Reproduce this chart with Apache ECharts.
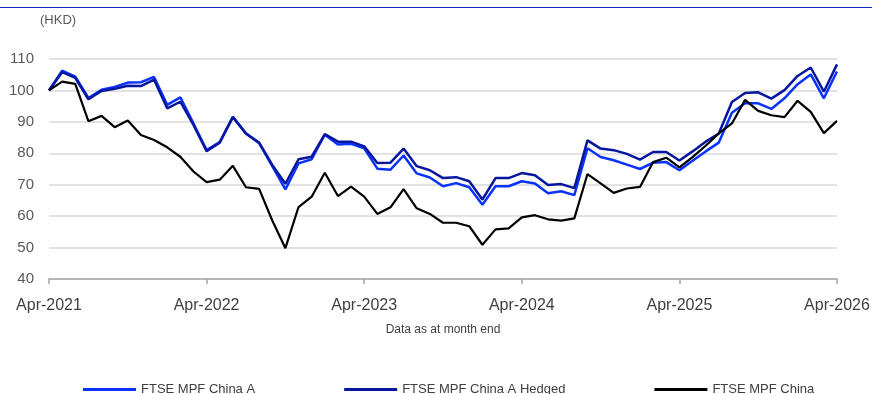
<!DOCTYPE html>
<html>
<head>
<meta charset="utf-8">
<script src="https://cdn.jsdelivr.net/npm/echarts@6/dist/echarts.min.js"></script>
<style>
html,body{margin:0;padding:0;background:#fff;}
#c{width:873px;height:394px;}
</style>
</head>
<body>
<div id="c"></div>
<script>
const months = [
 'Apr-2021','May-2021','Jun-2021','Jul-2021','Aug-2021','Sep-2021','Oct-2021','Nov-2021','Dec-2021','Jan-2022','Feb-2022','Mar-2022',
 'Apr-2022','May-2022','Jun-2022','Jul-2022','Aug-2022','Sep-2022','Oct-2022','Nov-2022','Dec-2022','Jan-2023','Feb-2023','Mar-2023',
 'Apr-2023','May-2023','Jun-2023','Jul-2023','Aug-2023','Sep-2023','Oct-2023','Nov-2023','Dec-2023','Jan-2024','Feb-2024','Mar-2024',
 'Apr-2024','May-2024','Jun-2024','Jul-2024','Aug-2024','Sep-2024','Oct-2024','Nov-2024','Dec-2024','Jan-2025','Feb-2025','Mar-2025',
 'Apr-2025','May-2025','Jun-2025','Jul-2025','Aug-2025','Sep-2025','Oct-2025','Nov-2025','Dec-2025','Jan-2026','Feb-2026','Mar-2026',
 'Apr-2026'
];
const chinaA = [
 100,106.3,104.4,97.6,100.2,101.1,102.5,102.6,104.3,95.4,97.8,89.5,
 81.0,83.6,91.6,86.4,83.2,75.9,68.5,76.8,78.1,85.9,82.8,83.0,
 81.6,75.1,74.8,79.3,73.6,72.3,69.5,70.5,69.2,63.6,69.5,69.5,
 71.1,70.4,67.3,67.9,66.7,81.6,78.8,77.8,76.4,75.0,77.0,77.2,
 74.6,77.6,80.6,83.4,92.9,95.9,95.9,94.1,97.5,102.0,105.1,97.5,
 106.0
];
const chinaAHedged = [
 100,105.8,104.0,97.2,99.8,100.5,101.5,101.4,103.4,94.3,96.4,89.0,
 80.7,83.4,91.5,86.2,83.4,76.3,70.3,78.1,78.9,86.1,83.7,83.7,
 82.2,76.9,77.0,81.5,75.9,74.6,72.1,72.4,71.1,65.3,72.1,72.1,
 73.7,73.0,69.9,70.2,68.9,84.1,81.5,81.0,79.8,78.0,80.4,80.4,
 77.7,80.6,83.7,86.3,96.3,99.2,99.4,97.4,100.1,104.6,107.3,99.6,
 108.3
];
const china = [
 100,102.8,102.1,90.2,91.9,88.3,90.4,85.8,84.2,81.9,78.9,74.2,
 70.8,71.6,76.0,69.2,68.7,58.6,49.8,62.9,66.2,73.8,66.4,69.4,
 66.2,60.7,62.8,68.6,62.5,60.7,57.9,57.9,56.8,50.9,55.8,56.1,
 59.6,60.3,59.0,58.6,59.3,73.4,70.4,67.4,68.8,69.3,77.2,78.6,
 75.5,78.8,82.4,86.3,89.5,97.0,93.5,92.1,91.5,96.7,93.2,86.4,
 90.3
];
const seriesNames = ['FTSE MPF China A','FTSE MPF China A Hedged','FTSE MPF China'];
const yTicks = {min: 40, max: 110, step: 10};

const colors = ['#0a32ff','#06169e','#000000'];
const font = "'Liberation Sans', Arial, sans-serif";

const chart = echarts.init(document.getElementById('c'), null, {renderer: 'canvas'});
chart.setOption({
  animation: false,
  textStyle: {fontFamily: font},
  title: {
    text: '(HKD)', left: 35, top: 9,
    textStyle: {fontSize: 13, fontWeight: 'normal', color: '#595959', fontFamily: font}
  },
  graphic: [{
    type: 'line', shape: {x1: 0, y1: 7.5, x2: 872, y2: 7.5},
    style: {stroke: '#1428c8', lineWidth: 1}, silent: true
  }],
  legend: {
    data: seriesNames,
    left: 78, top: 378,
    icon: 'rect', itemWidth: 53, itemHeight: 3, itemGap: 89,
    textStyle: {fontSize: 13, color: '#404040', fontFamily: font}
  },
  grid: {left: 49, right: 36, top: 59, bottom: 115, containLabel: false},
  xAxis: {
    type: 'category', data: months, boundaryGap: false,
    name: 'Data as at month end', nameLocation: 'middle', nameGap: 45,
    nameTextStyle: {fontSize: 12, color: '#404040', fontFamily: font},
    axisLine: {lineStyle: {color: '#a6a6a6', width: 1.5}},
    axisTick: {show: true, interval: 11, length: 5, lineStyle: {color: '#a6a6a6', width: 1.5}},
    axisLabel: {interval: 11, fontSize: 16, color: '#404040', margin: 19, fontFamily: font, showMaxLabel: true},
    splitLine: {show: false}
  },
  yAxis: {
    type: 'value', min: yTicks.min, max: yTicks.max, interval: yTicks.step,
    axisLine: {show: false}, axisTick: {show: false},
    axisLabel: {fontSize: 15, color: '#595959', margin: 15, fontFamily: font},
    splitLine: {lineStyle: {color: '#d9d9d9', width: 1.5}}
  },
  series: [
    {name: seriesNames[0], type: 'line', data: chinaA, symbol: 'none', lineStyle: {color: colors[0], width: 2.5}, itemStyle: {color: colors[0]}},
    {name: seriesNames[1], type: 'line', data: chinaAHedged, symbol: 'none', lineStyle: {color: colors[1], width: 2.5}, itemStyle: {color: colors[1]}},
    {name: seriesNames[2], type: 'line', data: china, symbol: 'none', lineStyle: {color: colors[2], width: 2.2}, itemStyle: {color: colors[2]}}
  ]
});
</script>
</body>
</html>
